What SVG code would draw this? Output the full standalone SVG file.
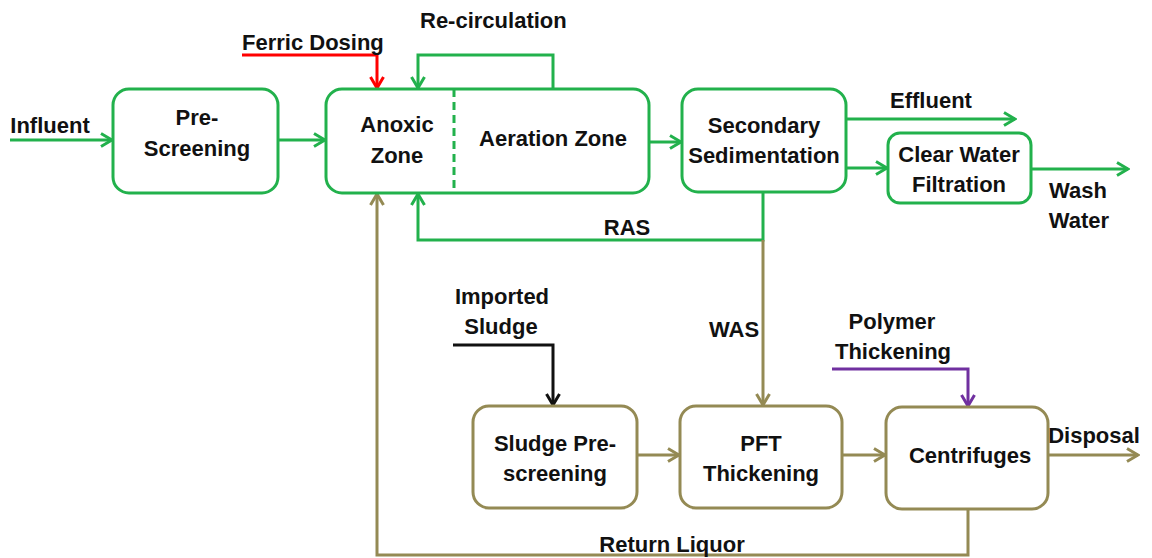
<svg xmlns="http://www.w3.org/2000/svg" width="1152" height="558" viewBox="0 0 1152 558">
<style>
text{font-family:"Liberation Sans",Arial,sans-serif;font-weight:bold;font-size:22px;fill:#111;text-anchor:middle}
.g{fill:#fff;stroke:#22B14C;stroke-width:3}
.o{fill:#fff;stroke:#948A54;stroke-width:3}
.lg{fill:none;stroke:#22B14C;stroke-width:3}
.lo{fill:none;stroke:#948A54;stroke-width:3}
.lr{fill:none;stroke:#FF0000;stroke-width:3}
.lk{fill:none;stroke:#111;stroke-width:3}
.lp{fill:none;stroke:#7030A0;stroke-width:3}
</style>
<defs>
<marker id="ag" viewBox="0 0 16 16" refX="14" refY="8" markerWidth="16" markerHeight="16" markerUnits="userSpaceOnUse" orient="auto"><path d="M3,1.5 L14,8 L3,14.5" fill="none" stroke="#22B14C" stroke-width="3"/></marker>
<marker id="ao" viewBox="0 0 16 16" refX="14" refY="8" markerWidth="16" markerHeight="16" markerUnits="userSpaceOnUse" orient="auto"><path d="M3,1.5 L14,8 L3,14.5" fill="none" stroke="#948A54" stroke-width="3"/></marker>
<marker id="ar" viewBox="0 0 16 16" refX="14" refY="8" markerWidth="16" markerHeight="16" markerUnits="userSpaceOnUse" orient="auto"><path d="M3,1.5 L14,8 L3,14.5" fill="none" stroke="#FF0000" stroke-width="3"/></marker>
<marker id="ak" viewBox="0 0 16 16" refX="14" refY="8" markerWidth="16" markerHeight="16" markerUnits="userSpaceOnUse" orient="auto"><path d="M3,1.5 L14,8 L3,14.5" fill="none" stroke="#111" stroke-width="3"/></marker>
<marker id="ap" viewBox="0 0 16 16" refX="14" refY="8" markerWidth="16" markerHeight="16" markerUnits="userSpaceOnUse" orient="auto"><path d="M3,1.5 L14,8 L3,14.5" fill="none" stroke="#7030A0" stroke-width="3"/></marker>
</defs>
<g id="connectors">
<path class="lg" d="M10,140 H112" marker-end="url(#ag)"/>
<path class="lg" d="M278,140 H325" marker-end="url(#ag)"/>
<path class="lg" d="M650,142 H681" marker-end="url(#ag)"/>
<path class="lg" d="M847,119 H1015" marker-end="url(#ag)"/>
<path class="lg" d="M847,168 H887" marker-end="url(#ag)"/>
<path class="lg" d="M1031,169 H1128" marker-end="url(#ag)"/>
<path class="lg" d="M553,89 V55 H418 V88" marker-end="url(#ag)"/>
<path class="lg" d="M763,192 V240 H418 V194" marker-end="url(#ag)"/>
<path class="lr" d="M242,55 H377 V88" marker-end="url(#ar)"/>
<path class="lo" d="M763,240 V405" marker-end="url(#ao)"/>
<path class="lo" d="M637,455 H679" marker-end="url(#ao)"/>
<path class="lo" d="M842,455 H885" marker-end="url(#ao)"/>
<path class="lo" d="M1048,455 H1138" marker-end="url(#ao)"/>
<path class="lo" d="M968,510 V555 H377 V194" marker-end="url(#ao)"/>
<path class="lk" d="M453,345 H553 V405" marker-end="url(#ak)"/>
<path class="lp" d="M832,369 H968 V406" marker-end="url(#ap)"/>
</g>
<g id="pre-screening">
<rect class="g" x="113" y="89" width="165" height="104" rx="16"/>
<text x="197" y="125">Pre-</text><text x="197" y="156">Screening</text>
</g>
<g id="anoxic-aeration">
<rect class="g" x="326" y="89" width="323" height="104" rx="16"/>
<path d="M454,89 V193" fill="none" stroke="#22B14C" stroke-width="3" stroke-dasharray="8,5"/>
<text x="397" y="132">Anoxic</text><text x="397" y="163">Zone</text>
<text x="553" y="146">Aeration Zone</text>
</g>
<g id="secondary-sedimentation">
<rect class="g" x="682" y="89" width="164" height="103" rx="16"/>
<text x="764" y="133">Secondary</text><text x="764" y="163">Sedimentation</text>
</g>
<g id="clear-water-filtration">
<rect class="g" x="888" y="133" width="143" height="70" rx="12"/>
<text x="959" y="162">Clear Water</text><text x="959" y="192">Filtration</text>
</g>
<g id="sludge-prescreening">
<rect class="o" x="473" y="406" width="164" height="102" rx="16"/>
<text x="555" y="451">Sludge Pre-</text><text x="555" y="481">screening</text>
</g>
<g id="pft-thickening">
<rect class="o" x="680" y="406" width="162" height="102" rx="16"/>
<text x="761" y="451">PFT</text><text x="761" y="481">Thickening</text>
</g>
<g id="centrifuges">
<rect class="o" x="886" y="407" width="162" height="102" rx="16"/>
<text x="970" y="463">Centrifuges</text>
</g>
<g id="labels">
<text x="50" y="133">Influent</text>
<text x="242" y="50" style="text-anchor:start">Ferric Dosing</text>
<text x="420" y="28" style="text-anchor:start">Re-circulation</text>
<text x="931" y="108">Effluent</text>
<text x="1078" y="198">Wash</text><text x="1079" y="228">Water</text>
<text x="627" y="235">RAS</text>
<text x="734" y="337">WAS</text>
<text x="502" y="304">Imported</text><text x="501" y="334">Sludge</text>
<text x="892" y="329">Polymer</text><text x="893" y="359">Thickening</text>
<text x="1094" y="443">Disposal</text>
<text x="672" y="552">Return Liquor</text>
</g>
</svg>
